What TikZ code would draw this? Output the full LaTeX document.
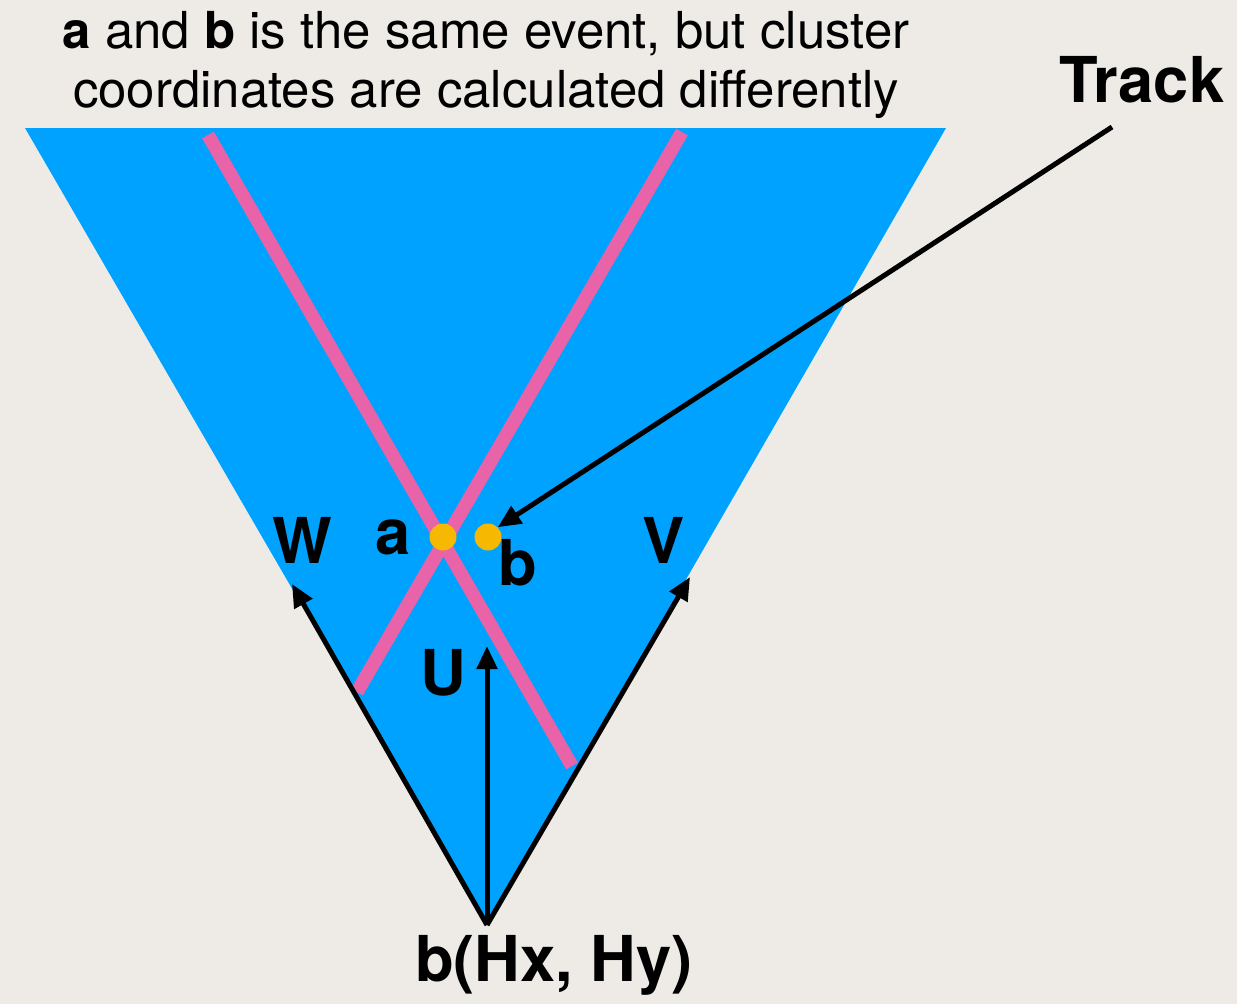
\documentclass[tikz,border=0pt]{standalone}
\usepackage{fontspec}
\setmainfont{TeX Gyre Heros}
\usetikzlibrary{arrows.meta, positioning, calc}
\definecolor{paper}{HTML}{EEEBE6}
\definecolor{planeblue}{HTML}{00A2FF}
\definecolor{wirepink}{HTML}{E963A8}
\definecolor{hitorange}{HTML}{F6B800}

\begin{document}
\begin{tikzpicture}[
    x=0.02cm, y=-0.02cm,
    wire/.style={line width=0.27cm, color=wirepink},
    hit/.style={circle, fill=hitorange, inner sep=0pt, minimum size=0.54cm},
    vec/.style={-{Triangle[length=0.46cm, width=0.4cm]}, line width=0.1cm, color=black},
    axislabel/.style={font=\fontsize{36}{36}\selectfont\bfseries, inner sep=0pt},
    note/.style={font=\fontsize{29}{34}\selectfont, align=center, inner sep=0pt}
]

% Background
\fill[paper] (0,0) rectangle (1237,1004);

% Plane (triangle)
\coordinate (topleft) at (25,128);
\coordinate (topright) at (946,128);
\coordinate (origin) at (487,925);
\fill[planeblue] (topleft) -- (topright) -- (origin) -- cycle;

% Wires
\coordinate (wire1_a) at (208,135);
\coordinate (wire1_b) at (572,766);
\coordinate (wire2_a) at (682,132);
\coordinate (wire2_b) at (357,692);
\draw[wire] (wire1_a) -- (wire1_b);
\draw[wire] (wire2_a) -- (wire2_b);

% Hits
\node[hit] (hit_a) at (443,537) {};
\node[hit] (hit_b) at (488,537) {};

% Axis vectors
\coordinate (w_tip) at (292,584);
\coordinate (u_tip) at (487,646);
\coordinate (v_tip) at (690,577);
\draw[vec] (origin) -- (w_tip);
\draw[vec] (origin) -- (u_tip);
\draw[vec] (origin) -- (v_tip);

% Labels
\node[axislabel] (w_label) at (302,540) {W};
\node[axislabel] (v_label) at (664,540) {V};
\node[axislabel] (u_label) at (443,673) {U};
\node[axislabel] (a_label) at (393,537) {a};
\node[axislabel] (b_label) at (518,563) {b};
\node[axislabel] (origin_label) at (554,965) {b(Hx, Hy)};

% Track
\node[axislabel] (track) at (1142,80) {Track};
\coordinate (track_start) at (1112,127);
\draw[vec] (track_start) -- (hit_b.north east);

% Note
\node[note] (caption) at (486,65) {\textbf{a} and \textbf{b} is the same event, but cluster\\coordinates are calculated differently};

\end{tikzpicture}
\end{document}
